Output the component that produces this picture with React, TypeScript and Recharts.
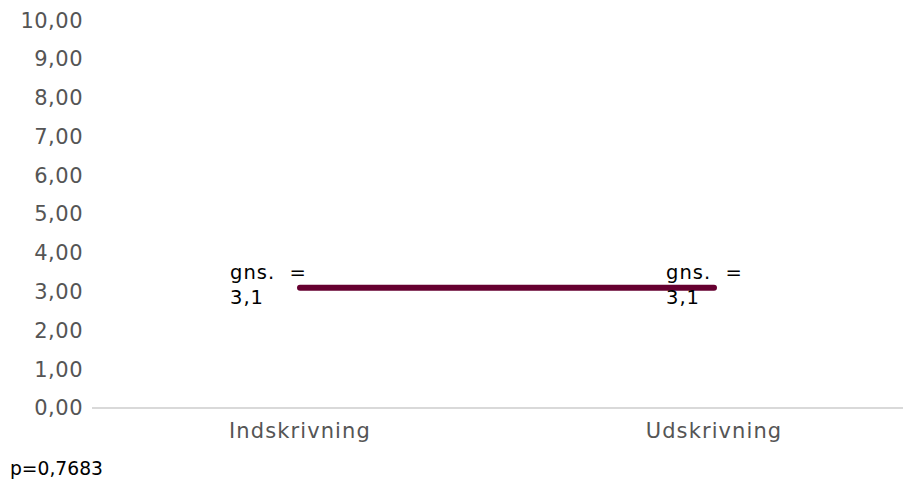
import React from "react";
import { LineChart, Line, XAxis, YAxis, LabelList } from "recharts";

const categories = ["Indskrivning", "Udskrivning"];
const meanValues = [3.1, 3.1];
const meanLabels = ["3,1", "3,1"];
const yTicks = [0, 1, 2, 3, 4, 5, 6, 7, 8, 9, 10];
const pValueText = "p=0,7683";

const data = categories.map((c, i) => ({ name: c, value: meanValues[i], label: meanLabels[i] }));

const FONT = "'DejaVu Sans', Verdana, sans-serif";
const labelOffsets = [-70, -48];

const MeanLabel = (props: any) => {
  const { x, y, index } = props;
  const lx = x + labelOffsets[index];
  return (
    <text x={lx} y={y - 9} fill="#000" fontSize={19.5} fontFamily={FONT} textAnchor="start" style={{ letterSpacing: 1 }}>
      <tspan x={lx} dy={0}>{"gns.\u00a0 ="}</tspan>
      <tspan x={lx} dy={25}>{meanLabels[index]}</tspan>
    </text>
  );
};

export default function App() {
  return (
    <div style={{ position: "relative", width: 903, height: 477, fontFamily: FONT }}>
      <LineChart width={903} height={440} data={data} margin={{ top: 12, right: 0, bottom: 0, left: 0 }}>
        <XAxis
          dataKey="name"
          padding={{ left: 208, right: 197 }}
          tickLine={false}
          tickSize={0}
          tickMargin={15}
          height={40}
          axisLine={{ stroke: "#d9d9d9", strokeWidth: 2 }}
          tick={{ fill: "#555", fontSize: 21, fontFamily: FONT, style: { letterSpacing: 1.1 } } as any}
        />
        <YAxis
          domain={[0, 10]}
          ticks={yTicks}
          width={84}
          axisLine={false}
          tickLine={false}
          tickSize={0}
          tickMargin={9}
          tickFormatter={(v: number) => v.toFixed(2).replace(".", ",")}
          tick={{ fill: "#555", fontSize: 21, fontFamily: FONT, style: { letterSpacing: 0.5 } } as any}
        />
        <Line
          dataKey="value"
          stroke="#660030"
          strokeWidth={6}
          strokeLinecap="round"
          dot={false}
          activeDot={false}
          isAnimationActive={false}
        >
          <LabelList dataKey="label" content={<MeanLabel />} />
        </Line>
      </LineChart>
      <div
        style={{
          position: "absolute",
          left: 2,
          top: 452,
          fontSize: 18.7,
          lineHeight: 1,
          color: "#000",
          fontFamily: FONT,
          whiteSpace: "nowrap",
        }}
      >
        {pValueText}
      </div>
    </div>
  );
}
